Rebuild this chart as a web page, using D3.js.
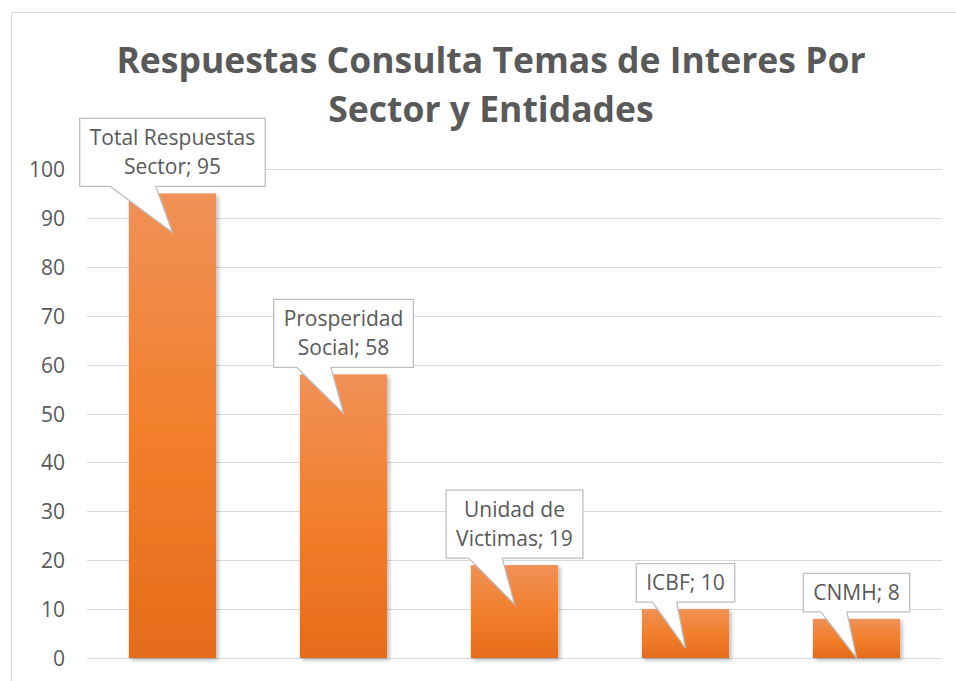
<!DOCTYPE html>
<html>
<head>
<meta charset="utf-8">
<script src="https://cdn.jsdelivr.net/npm/d3@7"></script>
<style>
  html, body { margin: 0; padding: 0; background: #fff; }
  svg { display: block; }
  text { font-family: "Open Sans", Lato, "Liberation Sans", sans-serif; fill: #595959; }
</style>
</head>
<body>
<svg id="chart" width="956" height="681"></svg>
<script>
// ---- data ----
const categories = ["Total Respuestas Sector", "Prosperidad Social", "Unidad de Victimas", "ICBF", "CNMH"];
const values = [95, 58, 19, 10, 8];
const labelLines = [["Total Respuestas", "Sector; 95"], ["Prosperidad", "Social; 58"], ["Unidad de", "Victimas; 19"], ["ICBF; 10"], ["CNMH; 8"]];
const yTicks = [0, 10, 20, 30, 40, 50, 60, 70, 80, 90, 100];
const titleLines = ["Respuestas Consulta Temas de Interes Por", "Sector y Entidades"];

const svg = d3.select("#chart");

// chart border
svg.append("rect").attr("x", 11.5).attr("y", 12.5).attr("width", 960).attr("height", 680)
  .attr("fill", "#fff").attr("stroke", "#D9D9D9").attr("stroke-width", 1);

const defs = svg.append("defs");
const grad = defs.append("linearGradient").attr("id", "barGrad").attr("x1", 0).attr("y1", 0).attr("x2", 0).attr("y2", 1);
grad.append("stop").attr("offset", "0%").attr("stop-color", "#F09157");
grad.append("stop").attr("offset", "50%").attr("stop-color", "#F27F2C");
grad.append("stop").attr("offset", "100%").attr("stop-color", "#E56C1A");
const shadow = defs.append("filter").attr("id", "shadow").attr("x", "-20%").attr("y", "-20%").attr("width", "140%").attr("height", "140%");
shadow.append("feGaussianBlur").attr("in", "SourceAlpha").attr("stdDeviation", 2);
shadow.append("feOffset").attr("dx", 1.5).attr("dy", 1.5).attr("result", "ob");
shadow.append("feComponentTransfer").append("feFuncA").attr("type", "linear").attr("slope", 0.3);
const fm = shadow.append("feMerge");
fm.append("feMergeNode");
fm.append("feMergeNode").attr("in", "SourceGraphic");

// title
svg.append("g").selectAll("text").data(titleLines).join("text")
  .attr("x", 491).attr("y", (d, i) => 73 + i * 49)
  .attr("text-anchor", "middle")
  .style("font-size", "35.5px").style("font-weight", "bold")
  .text(d => d);

// scales
const x = d3.scaleBand().domain(categories).range([87, 942]).paddingInner(0.49).paddingOuter(0.245);
const y = d3.scaleLinear().domain([0, 100]).range([658, 169]);

// gridlines
svg.append("g").selectAll("line").data(yTicks).join("line")
  .attr("x1", 87).attr("x2", 942)
  .attr("y1", d => Math.round(y(d)) + 0.5).attr("y2", d => Math.round(y(d)) + 0.5)
  .attr("stroke", "#D9D9D9").attr("stroke-width", 1);

// y axis
const yAxis = svg.append("g").attr("transform", "translate(65,0)")
  .call(d3.axisLeft(y).tickValues(yTicks).tickSize(0).tickPadding(0));
yAxis.select(".domain").remove();
yAxis.selectAll("text").style("font-size", "21px").style("fill", "#595959")
  .style("font-family", "'Open Sans', Lato, sans-serif").attr("dy", "0.36em");

// bars
svg.append("g").selectAll("rect").data(values).join("rect")
  .attr("x", (d, i) => x(categories[i]))
  .attr("width", x.bandwidth())
  .attr("y", d => y(d))
  .attr("height", d => y(0) - y(d))
  .attr("fill", "url(#barGrad)")
  .attr("filter", "url(#shadow)");

// callouts
const lineH = 29.5, padX = 10, padY = 4.5, gap = 7, tipDepth = 39;
const calloutG = svg.append("g");
values.forEach((v, i) => {
  const cx = x(categories[i]) + x.bandwidth() / 2;
  const lines = labelLines[i];
  const g = calloutG.append("g");
  const texts = g.selectAll("text").data(lines).join("text")
    .attr("x", cx).attr("text-anchor", "middle").style("font-size", "21px").text(d => d);
  let tw = 0;
  texts.each(function () { tw = Math.max(tw, this.getComputedTextLength()); });
  const bw = tw + 2 * padX;
  const bh = lines.length * lineH + 2 * padY;
  const bottom = y(v) - gap;
  const top = bottom - bh;
  const left = cx - bw / 2, right = cx + bw / 2;
  const b1 = left + 0.165 * bw, b2 = left + 0.41 * bw;
  const tipY = Math.min(y(v) + tipDepth, y(0));
  const path = `M${left},${top} L${right},${top} L${right},${bottom} L${b2},${bottom} L${cx},${tipY} L${b1},${bottom} L${left},${bottom} Z`;
  g.insert("path", "text").attr("d", path).attr("fill", "#fff").attr("stroke", "#BFBFBF").attr("stroke-width", 1.3);
  texts.attr("y", (d, j) => top + padY + lineH * j + 22);
});
</script>
</body>
</html>
